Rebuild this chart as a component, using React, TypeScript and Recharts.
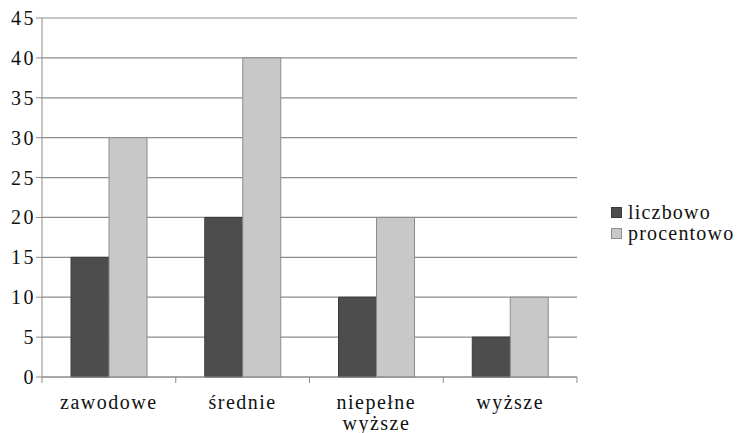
import { Bar, BarChart, CartesianGrid, XAxis, YAxis } from "recharts";

const categories = ["zawodowe", "średnie", "niepełne wyższe", "wyższe"];
const liczbowo = [15, 20, 10, 5];
const procentowo = [30, 40, 20, 10];
const yTicks = [0, 5, 10, 15, 20, 25, 30, 35, 40, 45];

const data = categories.map((name, i) => ({
  name,
  liczbowo: liczbowo[i],
  procentowo: procentowo[i],
}));

const W = 742;
const H = 433;
const PLOT_LEFT = 42;
const PLOT_RIGHT = 577;
const PLOT_TOP = 18;
const PLOT_BOTTOM = 377;
const BAND = (PLOT_RIGHT - PLOT_LEFT) / categories.length;
const FONT = "Liberation Serif, serif";
const GRID = "#8c8c8c";

// category labels, with tick marks on the band edges instead of the centres
const XTick = (props: any) => {
  const { x, payload, index } = props;
  const words = String(payload.value).split(" ");
  const left = x - BAND / 2;
  const right = x + BAND / 2;
  return (
    <g>
      <line x1={left} y1={PLOT_BOTTOM} x2={left} y2={PLOT_BOTTOM + 6} stroke={GRID} />
      {index === categories.length - 1 && (
        <line x1={right} y1={PLOT_BOTTOM} x2={right} y2={PLOT_BOTTOM + 6} stroke={GRID} />
      )}
      <text
        x={x}
        y={409}
        textAnchor="middle"
        fill="#111"
        fontSize={20}
        letterSpacing={1.5}
        fontFamily={FONT}
      >
        {words.map((w, i) => (
          <tspan key={i} x={x} dy={i === 0 ? 0 : 21}>
            {w}
          </tspan>
        ))}
      </text>
    </g>
  );
};

const YTick = (props: any) => {
  const { x, y, payload } = props;
  return (
    <text
      x={x + 2}
      y={y}
      dy={7}
      textAnchor="end"
      fill="#111"
      fontSize={20}
      letterSpacing={2.5}
      fontFamily={FONT}
    >
      {payload.value}
    </text>
  );
};

const legendItems = [
  { label: "liczbowo", fill: "#4d4d4d", stroke: "#3a3a3a" },
  { label: "procentowo", fill: "#c8c8c8", stroke: "#8c8c8c" },
];

const LegendBox = () => (
  <div
    style={{
      position: "absolute",
      left: 611,
      top: 202,
      fontFamily: FONT,
      fontSize: 20,
      letterSpacing: 1.2,
      color: "#111",
      lineHeight: "21px",
    }}
  >
    {legendItems.map((it) => (
      <div key={it.label} style={{ display: "flex", alignItems: "center" }}>
        <span
          style={{
            display: "inline-block",
            width: 9,
            height: 9,
            background: it.fill,
            border: `1px solid ${it.stroke}`,
            marginRight: 6,
          }}
        />
        {it.label}
      </div>
    ))}
  </div>
);

export default function App() {
  return (
    <div style={{ position: "absolute", left: 0, top: 0, width: W, height: H, background: "#fff" }}>
      <BarChart
        width={W}
        height={H}
        data={data}
        margin={{ top: PLOT_TOP, right: W - PLOT_RIGHT, left: 0, bottom: 0 }}
        barCategoryGap="21.7%"
        barGap={0}
      >
        <CartesianGrid vertical={false} stroke={GRID} strokeWidth={1.2} />
        <XAxis
          dataKey="name"
          height={H - PLOT_BOTTOM}
          axisLine={{ stroke: GRID }}
          tickLine={false}
          tick={<XTick />}
          interval={0}
        />
        <YAxis
          width={PLOT_LEFT}
          domain={[0, 45]}
          ticks={yTicks}
          interval={0}
          axisLine={{ stroke: GRID }}
          tickLine={{ stroke: GRID }}
          tickSize={6}
          tickMargin={2}
          tick={<YTick />}
        />
        <Bar dataKey="liczbowo" fill="#4d4d4d" stroke="#3a3a3a" isAnimationActive={false} />
        <Bar dataKey="procentowo" fill="#c8c8c8" stroke="#8c8c8c" isAnimationActive={false} />
      </BarChart>
      <LegendBox />
    </div>
  );
}
